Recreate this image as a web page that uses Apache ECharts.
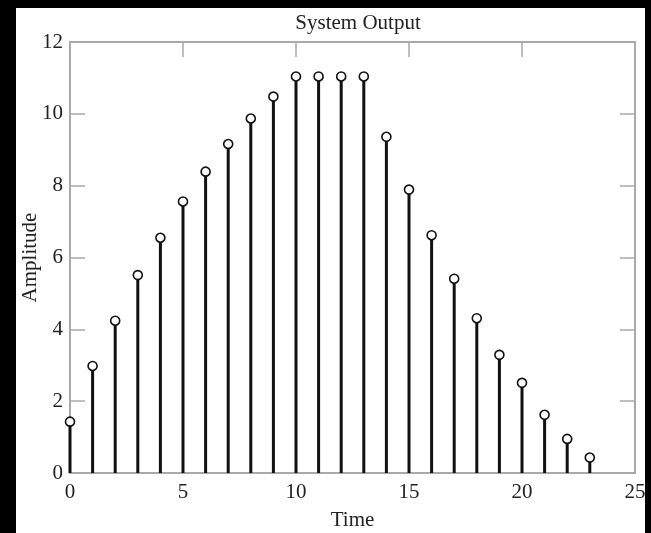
<!DOCTYPE html>
<html>
	<head>
		<meta charset="UTF-8">
		<title>System Output</title>
		<style type="text/css">
			html, body{
				margin: 0;
				padding: 0;
				background: #000;
				width: 651px;
				height: 533px;
				overflow: hidden;
			}
			#echartBox{
				position: absolute;
				left: 16px;
				top: 8px;
				width: 629px;
				height: 525px;
				background: #fff;
			}
		</style>
	</head>
	<body>
		<div id="echartBox"></div>
		<script src="https://cdn.jsdelivr.net/npm/echarts@6/dist/echarts.min.js" type="text/javascript" charset="utf-8"></script>
		<script type="text/javascript">
			// 时间点
			var timeData = [0, 1, 2, 3, 4, 5, 6, 7, 8, 9, 10, 11, 12, 13, 14, 15, 16, 17, 18, 19, 20, 21, 22, 23];
			// 输出幅值
			var amplitudeData = [1.43, 2.98, 4.24, 5.51, 6.55, 7.56, 8.39, 9.16, 9.87, 10.48, 11.04, 11.04,
				11.04, 11.04, 9.36, 7.89, 6.62, 5.41, 4.31, 3.29, 2.51, 1.62, 0.95, 0.43];

			var FONT = '"Liberation Serif", "DejaVu Serif", serif';
			var FONT_SIZE = 21;
			var AXIS_COLOR = '#a9a9a9';

			var points = [];
			for (var i = 0; i < timeData.length; i++) {
				points.push([timeData[i], amplitudeData[i]]);
			}

			//公共的坐标轴样式
			var axisLine = { show: true, onZero: false, lineStyle: { color: AXIS_COLOR, width: 2 } };
			var axisTick = { show: true, inside: true, length: 15, lineStyle: { color: AXIS_COLOR, width: 1.5 } };

			var chart = echarts.init(document.getElementById("echartBox"));
			var option = {
				backgroundColor: '#fff',
				animation: false,
				title: {
					text: 'System Output',
					left: 337,
					top: 0,
					textAlign: 'center',
					textStyle: { fontFamily: FONT, fontSize: FONT_SIZE, fontWeight: 'normal', color: '#222' }
				},
				grid: { left: 54, right: 10, top: 34, bottom: 60, containLabel: false, outerBoundsMode: 'none' },
				xAxis: [{
					type: 'value',
					min: 0, max: 25, interval: 5,
					name: 'Time',
					nameLocation: 'middle',
					nameGap: 37,
					nameMoveOverlap: false,
					nameTextStyle: { fontFamily: FONT, fontSize: FONT_SIZE, color: '#222' },
					axisLine: axisLine,
					axisTick: axisTick,
					splitLine: { show: false },
					axisLabel: { fontFamily: FONT, fontSize: FONT_SIZE, color: '#222', margin: 9 }
				}, {
					type: 'value',
					position: 'top',
					min: 0, max: 25, interval: 5,
					axisLine: axisLine,
					axisTick: axisTick,
					splitLine: { show: false },
					axisLabel: { show: false }
				}],
				yAxis: [{
					type: 'value',
					min: 0, max: 12, interval: 2,
					name: 'Amplitude',
					nameLocation: 'middle',
					nameGap: 29,
					nameMoveOverlap: false,
					nameTextStyle: { fontFamily: FONT, fontSize: FONT_SIZE, color: '#222' },
					axisLine: axisLine,
					axisTick: axisTick,
					splitLine: { show: false },
					axisLabel: { fontFamily: FONT, fontSize: FONT_SIZE, color: '#222', margin: 7 }
				}, {
					type: 'value',
					position: 'right',
					min: 0, max: 12, interval: 2,
					axisLine: axisLine,
					axisTick: axisTick,
					splitLine: { show: false },
					axisLabel: { show: false }
				}],
				series: [{
					// 茎线
					type: 'bar',
					data: points,
					barWidth: 3,
					itemStyle: { color: '#111' },
					z: 2
				}, {
					// 顶端圆圈
					type: 'scatter',
					data: points,
					symbol: 'circle',
					symbolSize: 9,
					itemStyle: { color: '#fff', borderColor: '#111', borderWidth: 1.6, opacity: 1 },
					z: 3
				}]
			};
			chart.setOption(option);
		</script>
	</body>
</html>
